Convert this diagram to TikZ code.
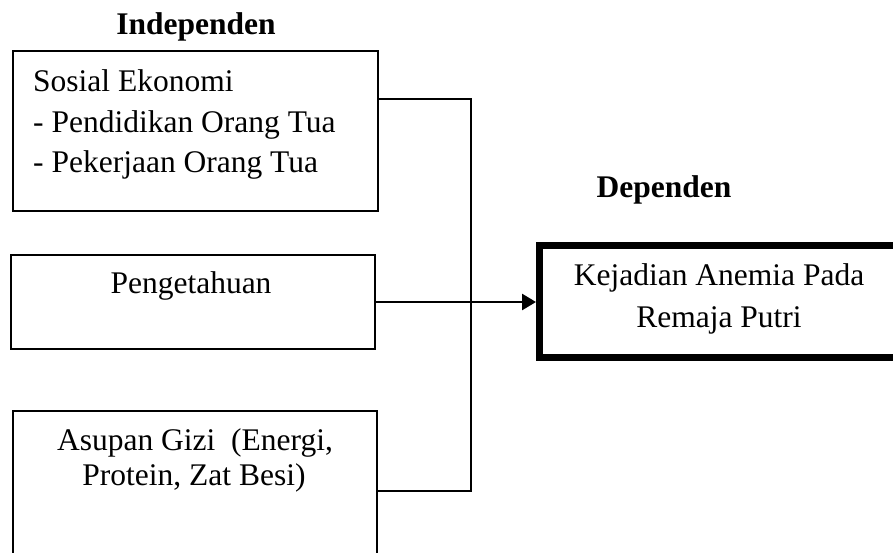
\documentclass[tikz,border=0pt]{standalone}
\usepackage{fontspec}
\setmainfont{Liberation Serif}
\usetikzlibrary{arrows.meta,calc}
\begin{document}
\begin{tikzpicture}[x=1pt,y=-1pt,
  box/.style={draw,line width=2pt,rectangle,inner sep=0pt,anchor=north west},
  depbox/.style={draw,line width=6.5pt,rectangle,inner sep=0pt,anchor=north west},
  txt/.style={inner sep=0pt,font=\fontsize{31.5}{38}\selectfont},
  ttl/.style={inner sep=0pt,font=\fontsize{31.5}{38}\selectfont\bfseries,anchor=base},
  conn/.style={line width=2pt}]
\useasboundingbox (0,0) rectangle (893,553);
\clip (0,0) rectangle (893,553);
% boxes
\node[box,minimum width=364.8pt,minimum height=160pt] (b1) at (11.7,50) {};
\node[box,minimum width=363.5pt,minimum height=94pt] (b2) at (10,254) {};
\node[box,minimum width=364.3pt,minimum height=190pt] (b3) at (11.7,410) {};
\node[depbox,minimum width=390pt,minimum height=112pt] (dep) at (536,242) {};
% titles
\node[ttl] (tind) at (196,35) {Independen};
\node[ttl] (tdep) at (664,198) {Dependen};
% texts
\node[txt,anchor=base west] (s1) at (33,92) {Sosial Ekonomi};
\node[txt,anchor=base west] (s2) at (33,133) {- Pendidikan Orang Tua};
\node[txt,anchor=base west] (s3) at (33,173) {- Pekerjaan Orang Tua};
\node[txt,anchor=base] (p1) at (191,293) {Pengetahuan};
\node[txt,anchor=base] (a1) at (195,450) {Asupan Gizi\ \ (Energi,};
\node[txt,anchor=base] (a2) at (194,485) {Protein, Zat Besi)};
\node[txt,anchor=base] (k1) at (719,285) {Kejadian Anemia Pada};
\node[txt,anchor=base] (k2) at (719,327) {Remaja Putri};
% connectors
\coordinate (c1) at ($(b1.north east)+(0,49)$);
\coordinate (c3) at ($(b3.north east)+(0,81)$);
\coordinate (bus) at (471,0);
\draw[conn] (c1) -| (bus |- c3) -- (c3);
\draw[conn,line width=2.6pt,-{Triangle[length=14pt,width=16pt]}] (b2.east) -- (b2.east -| dep.west);
\end{tikzpicture}
\end{document}
